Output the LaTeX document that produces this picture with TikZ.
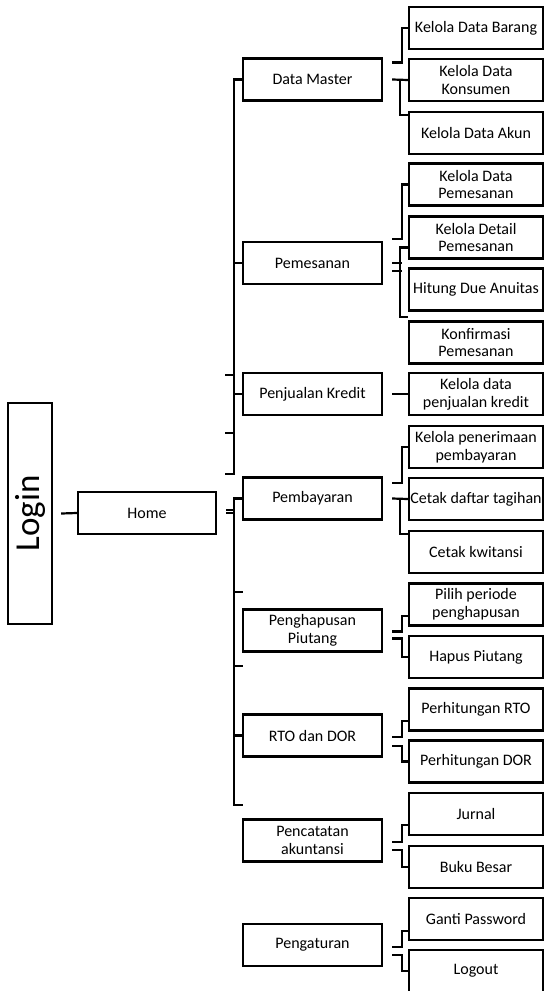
\documentclass[tikz,border=0pt]{standalone}
\usepackage{fontspec}
\setmainfont{Carlito}
\usetikzlibrary{calc}

\begin{document}
\begin{tikzpicture}[
    x=1pt, y=-1pt,
    menu/.style={rectangle, draw=black, line width=2.4pt, minimum width=139pt, minimum height=42pt, align=center, font=\fontsize{16}{17.7}\selectfont, inner sep=1pt},
    submenu/.style={rectangle, draw=black, line width=2.4pt, minimum width=134pt, minimum height=42pt, align=center, font=\fontsize{16}{17.7}\selectfont, inner sep=1pt},
    link/.style={line width=2.2pt}
]
\useasboundingbox (0,0) rectangle (544,991);

% Login and Home
\node[rectangle, draw=black, line width=2.4pt, rotate=90, minimum width=221pt, minimum height=44pt, font=\fontsize{35}{40}\selectfont] (login) at (30,513.5) {Login};
\node[menu, minimum width=138pt] (home) at (147,513) {Home};

% main menu
\node[menu] (master) at (312.5,79.5) {Data Master};
\node[menu] (pesan) at (312.5,263) {Pemesanan};
\node[menu] (kredit) at (312.5,394) {Penjualan Kredit};
\node[menu] (bayar) at (312.5,498.5) {Pembayaran};
\node[menu] (hapus) at (312.5,630.5) {Penghapusan\\Piutang};
\node[menu] (rtodor) at (312.5,735.5) {RTO dan DOR};
\node[menu] (catat) at (312.5,840.5) {Pencatatan\\akuntansi};
\node[menu] (atur) at (312.5,945) {Pengaturan};

% sub menu
\node[submenu] (barang) at (476,28) {Kelola Data Barang};
\node[submenu] (konsumen) at (476,80) {Kelola Data\\Konsumen};
\node[submenu] (akun) at (476,133) {Kelola Data Akun};
\node[submenu] (datapesan) at (476,184.5) {Kelola Data\\Pemesanan};
\node[submenu] (detailpesan) at (476,237.5) {Kelola Detail\\Pemesanan};
\node[submenu] (anuitas) at (476,289.5) {Hitung Due Anuitas};
\node[submenu] (konfirmasi) at (476,342.5) {Konfirmasi\\Pemesanan};
\node[submenu] (datakredit) at (476,394) {Kelola data\\penjualan kredit};
\node[submenu] (terima) at (476,447) {Kelola penerimaan\\pembayaran};
\node[submenu] (tagihan) at (476,499) {Cetak daftar tagihan};
\node[submenu] (kwitansi) at (476,552) {Cetak kwitansi};
\node[submenu] (periode) at (476,604.5) {Pilih periode\\penghapusan};
\node[submenu] (hapuspiutang) at (476,657) {Hapus Piutang};
\node[submenu] (rto) at (476,709.5) {Perhitungan RTO};
\node[submenu] (dor) at (476,761.5) {Perhitungan DOR};
\node[submenu] (jurnal) at (476,814) {Jurnal};
\node[submenu] (bukubesar) at (476,867) {Buku Besar};
\node[submenu] (password) at (476,919) {Ganti Password};
\node[submenu] (logout) at (476,971) {Logout};

% Login - Home
\draw[link] ([xshift=8pt]login.south) -- (home.west);

% upper bracket
\draw[link] (master.west) -- ++(-8,0) coordinate (busA) -- ([yshift=2pt]busA |- bayar.north) -- ++(-9,0);
\draw[link] (pesan.west) -- (busA |- pesan.west);
\draw[link] (kredit.west) -- (busA |- kredit.west);
\draw[link] ([yshift=-3pt]busA |- kredit.north) -- ++(-9,0);
\draw[link] ($(busA |- kredit.south)!0.28!(busA |- bayar.north)$) -- ++(-9,0);

% lower bracket
\draw[link] (bayar.west) -- ++(-8,0) coordinate (busB) -- ([yshift=13pt]busB |- catat.north) -- ++(9,0);
\draw[link] ([xshift=9pt]home.east) -- (busB |- home.east);
\draw[link] ([xshift=9pt,yshift=3pt]home.east) -- ([yshift=3pt]busB |- home.east);
\draw[link] ([yshift=16pt]busB |- hapus.north) -- ++(9,0);
\draw[link] ([yshift=-13pt]busB |- hapus.south) -- ++(9,0);
\draw[link] (rtodor.west) -- (busB |- rtodor.west);

% Data Master
\draw[link] ([xshift=9pt,yshift=17pt]master.east) -- ++(10,0) |- (barang.west);
\draw[link] ([xshift=9pt]master.east) -- (konsumen.west);
\draw[link] ([xshift=-8pt]konsumen.west) |- ([yshift=-4pt]akun.north west);

% Pemesanan
\draw[link] ([xshift=9pt,yshift=24pt]pesan.east) -- ++(10,0) |- (datapesan.west);
\draw[link] ([xshift=9pt]pesan.east) -- ++(10,0);
\draw[link] ([xshift=9pt,yshift=-8pt]pesan.east) -- ++(10,0);
\draw[link] ([yshift=-10pt]detailpesan.west) -| ([xshift=-8pt,yshift=-5pt]anuitas.south west) -- ([yshift=-5pt]anuitas.south west);

% Penjualan Kredit
\draw[link] ([xshift=9pt]kredit.east) -- (datakredit.west);

% Pembayaran
\draw[link] ([xshift=9pt,yshift=15.5pt]bayar.east) -- ++(10,0) |- (terima.west);
\draw[link] ([xshift=9pt]bayar.east) -- (tagihan.west);
\draw[link] ([xshift=-8pt]tagihan.west) |- ([yshift=-4pt]kwitansi.north west);

% Penghapusan Piutang
\draw[link] ([xshift=9pt,yshift=-1pt]hapus.east) -- ++(10,0) |- ([yshift=11pt]periode.south west);
\draw[link] ([xshift=9pt,yshift=-8pt]hapus.east) -- ++(10,0) |- (hapuspiutang.west);

% RTO dan DOR
\draw[link] ([xshift=9pt,yshift=-1.5pt]rtodor.east) -- ++(10,0) |- ([yshift=10.5pt]rto.south west);
\draw[link] ([xshift=9pt,yshift=-10.5pt]rtodor.east) -- ++(10,0) |- (dor.west);

% Pencatatan akuntansi
\draw[link] ([xshift=9pt,yshift=-1.5pt]catat.east) -- ++(10,0) |- ([yshift=11pt]jurnal.south west);
\draw[link] ([xshift=9pt,yshift=-9.5pt]catat.east) -- ++(10,0) |- (bukubesar.west);

% Pengaturan
\draw[link] ([xshift=9pt,yshift=-2pt]atur.east) -- ++(10,0) |- ([yshift=10pt]password.south west);
\draw[link] ([xshift=9pt,yshift=-10pt]atur.east) -- ++(10,0) |- (logout.west);

\end{tikzpicture}
\end{document}
